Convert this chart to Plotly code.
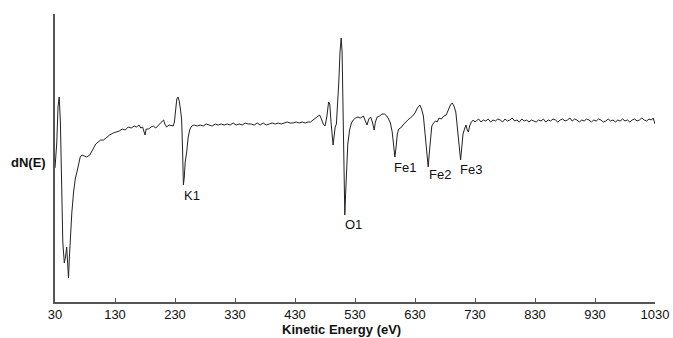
import plotly.graph_objects as go

# Kinetic energy (eV) and derivative signal dN(E) (arbitrary units)
energy = [30, 33, 35, 37, 39, 41, 43, 45.5, 47.5, 49.5, 51, 52.5, 54, 56, 58, 61, 64, 67, 70, 72,
          75, 79, 83, 88, 94, 98, 102, 106, 111, 116, 121, 127, 132, 137, 142, 147, 152, 157, 162, 166,
          170, 173, 176, 178, 180, 182, 186, 190, 194, 198, 202, 206, 209, 211, 213, 216, 220, 224, 227, 229,
          231, 233, 235, 237, 239, 241, 242.5, 244, 245.5, 247, 249.5, 252, 255, 258, 262, 267, 272, 277, 282, 287,
          292, 297, 302, 307, 312, 317, 322, 327, 332, 337, 342, 347, 352, 357, 362, 367, 372, 377, 382, 387,
          392, 397, 402, 407, 412, 417, 422, 427, 432, 437, 442, 447, 452, 456, 460, 464, 468, 471, 474, 477,
          480, 483, 486, 488, 490, 492, 493.5, 495, 497, 499, 501, 503, 505, 507, 508.5, 510, 511.5, 513, 514.5, 516,
          518, 521, 524, 527, 531, 535, 539, 544, 548, 550, 553, 556, 559, 562, 564, 567, 571, 575, 579, 583,
          586, 589, 592, 594, 596.5, 598.5, 600.5, 603, 606, 610, 614, 618, 622, 626, 630, 634, 638, 641, 644, 646,
          648, 650, 652, 654, 656, 658, 661, 664, 667, 670, 674, 678, 682, 686, 689, 692, 695, 698, 700, 702,
          704, 706, 708, 710, 713, 715, 717, 719, 721, 724, 727, 730, 732, 736, 740, 744, 748, 752, 756, 760,
          764, 768, 772, 776, 780, 784, 788, 792, 796, 800, 804, 808, 812, 816, 820, 824, 828, 832, 836, 840,
          844, 848, 852, 856, 860, 864, 868, 872, 876, 880, 884, 888, 892, 896, 900, 904, 908, 912, 916, 920,
          924, 928, 932, 936, 940, 944, 948, 952, 956, 960, 964, 968, 972, 976, 980, 984, 988, 992, 996, 1000,
          1004, 1008, 1012, 1016, 1020, 1024, 1027, 1030]
signal = [134, 160, 195, 205, 180, 110, 60, 39, 45, 55, 40, 24, 45, 70, 89, 110, 124, 131, 140, 145,
          147, 146, 145, 147, 154, 158, 160, 162, 162, 165, 167, 169, 170, 171, 173, 172, 175, 174, 176, 175,
          177, 174, 175, 172, 167, 173, 173, 175, 176, 174, 177, 179, 181, 182, 178, 175, 177, 176, 176, 180,
          193, 203, 205, 201, 193, 183, 155, 117, 125, 140, 150, 165, 173, 176, 177, 176, 177, 176, 178, 177,
          176, 178, 177, 178, 177, 178, 177, 179, 177, 178, 177, 179, 178, 178, 177, 179, 177, 179, 177, 178,
          179, 178, 179, 178, 179, 180, 179, 179, 180, 179, 180, 179, 180, 180, 182, 184, 186, 187, 183, 178,
          176, 185, 200, 198, 180, 162, 157, 165, 175, 178, 195, 220, 250, 264, 250, 205, 130, 87, 110, 140,
          158, 172, 179, 182, 184, 185, 184, 186, 180, 177, 183, 185, 180, 172, 180, 185, 186, 188, 188, 186,
          183, 179, 170, 158, 145, 155, 168, 173, 174, 177, 180, 182, 184, 186, 189, 194, 197, 193, 186, 172,
          160, 145, 135, 150, 168, 176, 179, 181, 180, 184, 183, 186, 187, 193, 197, 199, 196, 190, 178, 165,
          150, 142, 155, 168, 174, 177, 172, 170, 176, 180, 182, 180, 181, 183, 180, 182, 181, 183, 180, 182,
          181, 183, 182, 180, 183, 181, 182, 184, 181, 182, 180, 183, 181, 182, 180, 182, 181, 180, 182, 181,
          183, 180, 182, 181, 183, 182, 180, 182, 183, 181, 182, 184, 181, 183, 182, 180, 182, 181, 183, 182,
          180, 182, 181, 183, 182, 180, 181, 183, 181, 182, 180, 182, 181, 183, 181, 182, 180, 182, 183, 181,
          182, 184, 182, 181, 183, 182, 184, 178]

# Peak labels
peak_labels = ["K1", "O1", "Fe1", "Fe2", "Fe3"]
peak_label_x = [258, 527, 613, 672, 723]
peak_label_y = [107, 78, 135, 128, 133]

x_ticks = [30, 130, 230, 330, 430, 530, 630, 730, 830, 930, 1030]

FONT = "Arial, Liberation Sans, sans-serif"

fig = go.Figure()
fig.add_trace(go.Scatter(x=energy, y=signal, mode="lines",
                         line=dict(color="#222222", width=1), hoverinfo="skip", showlegend=False))

annotations = [dict(x=x, y=y, text=t, xref="x", yref="y", showarrow=False,
                    font=dict(family=FONT, size=13, color="#111111"))
               for t, x, y in zip(peak_labels, peak_label_x, peak_label_y)]
annotations.append(dict(x=-0.012, y=0.483, xref="paper", yref="paper", text="<b>dN(E)</b>",
                        xanchor="right", yanchor="middle", showarrow=False,
                        font=dict(family=FONT, size=13, color="#111111")))
annotations.append(dict(x=0.478, y=-0.094, xref="paper", yref="paper", text="<b>Kinetic Energy (eV)</b>",
                        xanchor="center", yanchor="middle", showarrow=False,
                        font=dict(family=FONT, size=13, color="#111111")))

fig.update_layout(
    template="none",
    width=673, height=338,
    margin=dict(l=55, r=18, t=14, b=36, pad=0),
    paper_bgcolor="white", plot_bgcolor="white",
    font=dict(family=FONT, size=13, color="#111111"),
    annotations=annotations,
    xaxis=dict(range=[30, 1030], tickvals=x_ticks, ticktext=[str(v) for v in x_ticks],
               showline=True, linecolor="#555555", linewidth=1.5, automargin=False,
               ticks="inside", ticklen=4, tickcolor="#555555", tickwidth=1,
               showgrid=False, zeroline=False, fixedrange=True,
               tickfont=dict(family=FONT, size=13, color="#111111")),
    yaxis=dict(range=[0, 288], showline=True, linecolor="#555555", linewidth=1.5, automargin=False,
               showticklabels=False, ticks="", showgrid=False, zeroline=False, fixedrange=True),
)

fig.write_html("out.html", config={"displayModeBar": False},
               post_script="document.body.style.margin='0px';document.body.style.overflow='hidden';")
